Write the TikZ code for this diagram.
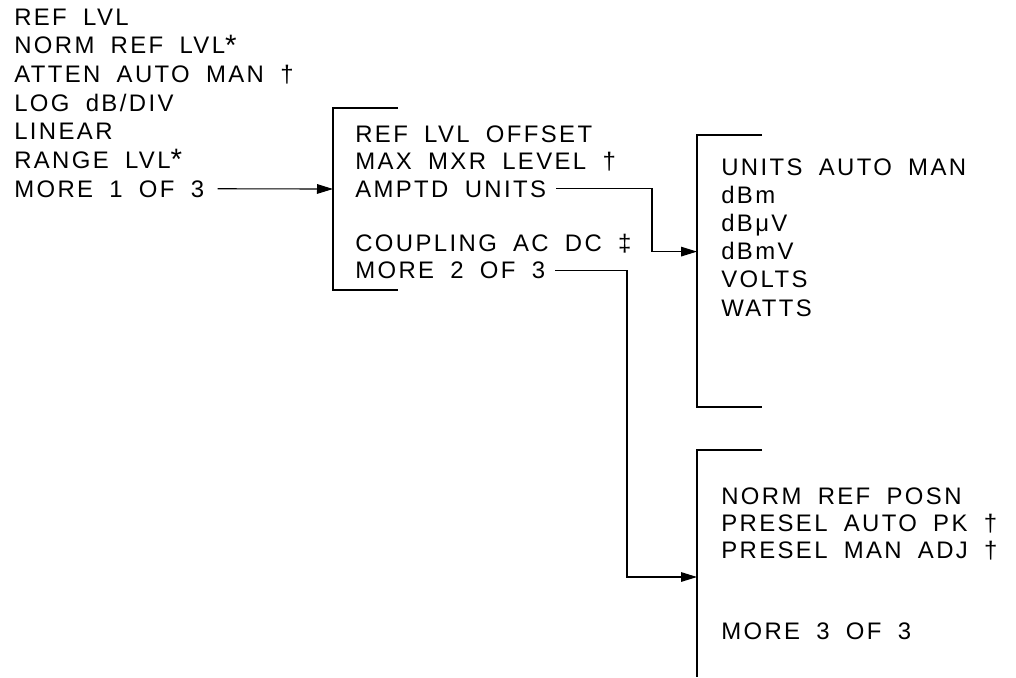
\documentclass[tikz,border=0pt]{standalone}
\usepackage{fontspec}
\setmainfont{Liberation Sans}[LetterSpace=10,WordSpace=1.8]
\usetikzlibrary{arrows.meta}
\newcommand{\bigast}{\raisebox{-1pt}{\fontsize{21}{21}\selectfont *}}

\begin{document}
\begin{tikzpicture}[
  x=0.025cm, y=-0.025cm,
  key/.style={anchor=base west, inner sep=0pt, font=\fontsize{17}{20}\selectfont},
  bracket/.style={line width=0.8pt},
  arrow/.style={-{Triangle[length=4mm,width=2.4mm]}, line width=0.8pt},
]
  \useasboundingbox (0,0) rectangle (1016,677);

  % Level menu, page 1
  \node[key] (reflvl) at (14,25) {REF LVL};
  \node[key] (normref) at (14,53.7) {NORM REF LVL\bigast};
  \node[key] (atten) at (14,82.3) {ATTEN AUTO MAN \textdagger};
  \node[key] (logdb) at (14,111) {LOG dB/DIV};
  \node[key] (linear) at (14,139.7) {LINEAR};
  \node[key] (rangelvl) at (14,168.3) {RANGE LVL\bigast};
  \node[key] (moreone) at (14,197) {MORE 1 OF 3};

  % Page 2
  \draw[bracket] (398,108) -- (333,108) -- (333,290) -- (398,290);
  \coordinate (pagetwo) at (333,189);
  \node[key] (reflvloff) at (355,142.4) {REF LVL OFFSET};
  \node[key] (maxmxr) at (355,169.7) {MAX MXR LEVEL \textdagger};
  \node[key] (amptdunits) at (355,197) {AMPTD UNITS};
  \node[key] (coupling) at (355,251.6) {COUPLING AC DC \textdaggerdbl};
  \node[key] (moretwo) at (355,278.9) {MORE 2 OF 3};

  % Amplitude units
  \draw[bracket] (762,135) -- (697,135) -- (697,407) -- (762,407);
  \coordinate (pagethree) at (697,251.6);
  \coordinate (unitsbend) at (652,0);
  \node[key] (unitsauto) at (721,175) {UNITS AUTO MAN};
  \node[key] (dbm) at (721,203.2) {dBm};
  \node[key] (dbuv) at (721,231.4) {dBμV};
  \node[key] (dbmv) at (721,259.6) {dBmV};
  \node[key] (volts) at (721,287.8) {VOLTS};
  \node[key] (watts) at (721,316) {WATTS};

  % Page 3
  \draw[bracket] (762,450) -- (697,450) -- (697,677);
  \coordinate (pagefour) at (697,577);
  \coordinate (morebend) at (627,0);
  \node[key] (normposn) at (721,504) {NORM REF POSN};
  \node[key] (preselpk) at (721,531) {PRESEL AUTO PK \textdagger};
  \node[key] (preseladj) at (721,558) {PRESEL MAN ADJ \textdagger};
  \node[key] (morethree) at (721,639) {MORE 3 OF 3};

  % Arrows
  \draw[arrow] ([xshift=0.33cm]moreone.east) -- (pagetwo);
  \draw[arrow] ([xshift=0.25cm]amptdunits.east) -| (unitsbend |- pagethree) -- (pagethree);
  \draw[arrow] ([xshift=0.25cm]moretwo.east) -| (morebend |- pagefour) -- (pagefour);
\end{tikzpicture}
\end{document}
